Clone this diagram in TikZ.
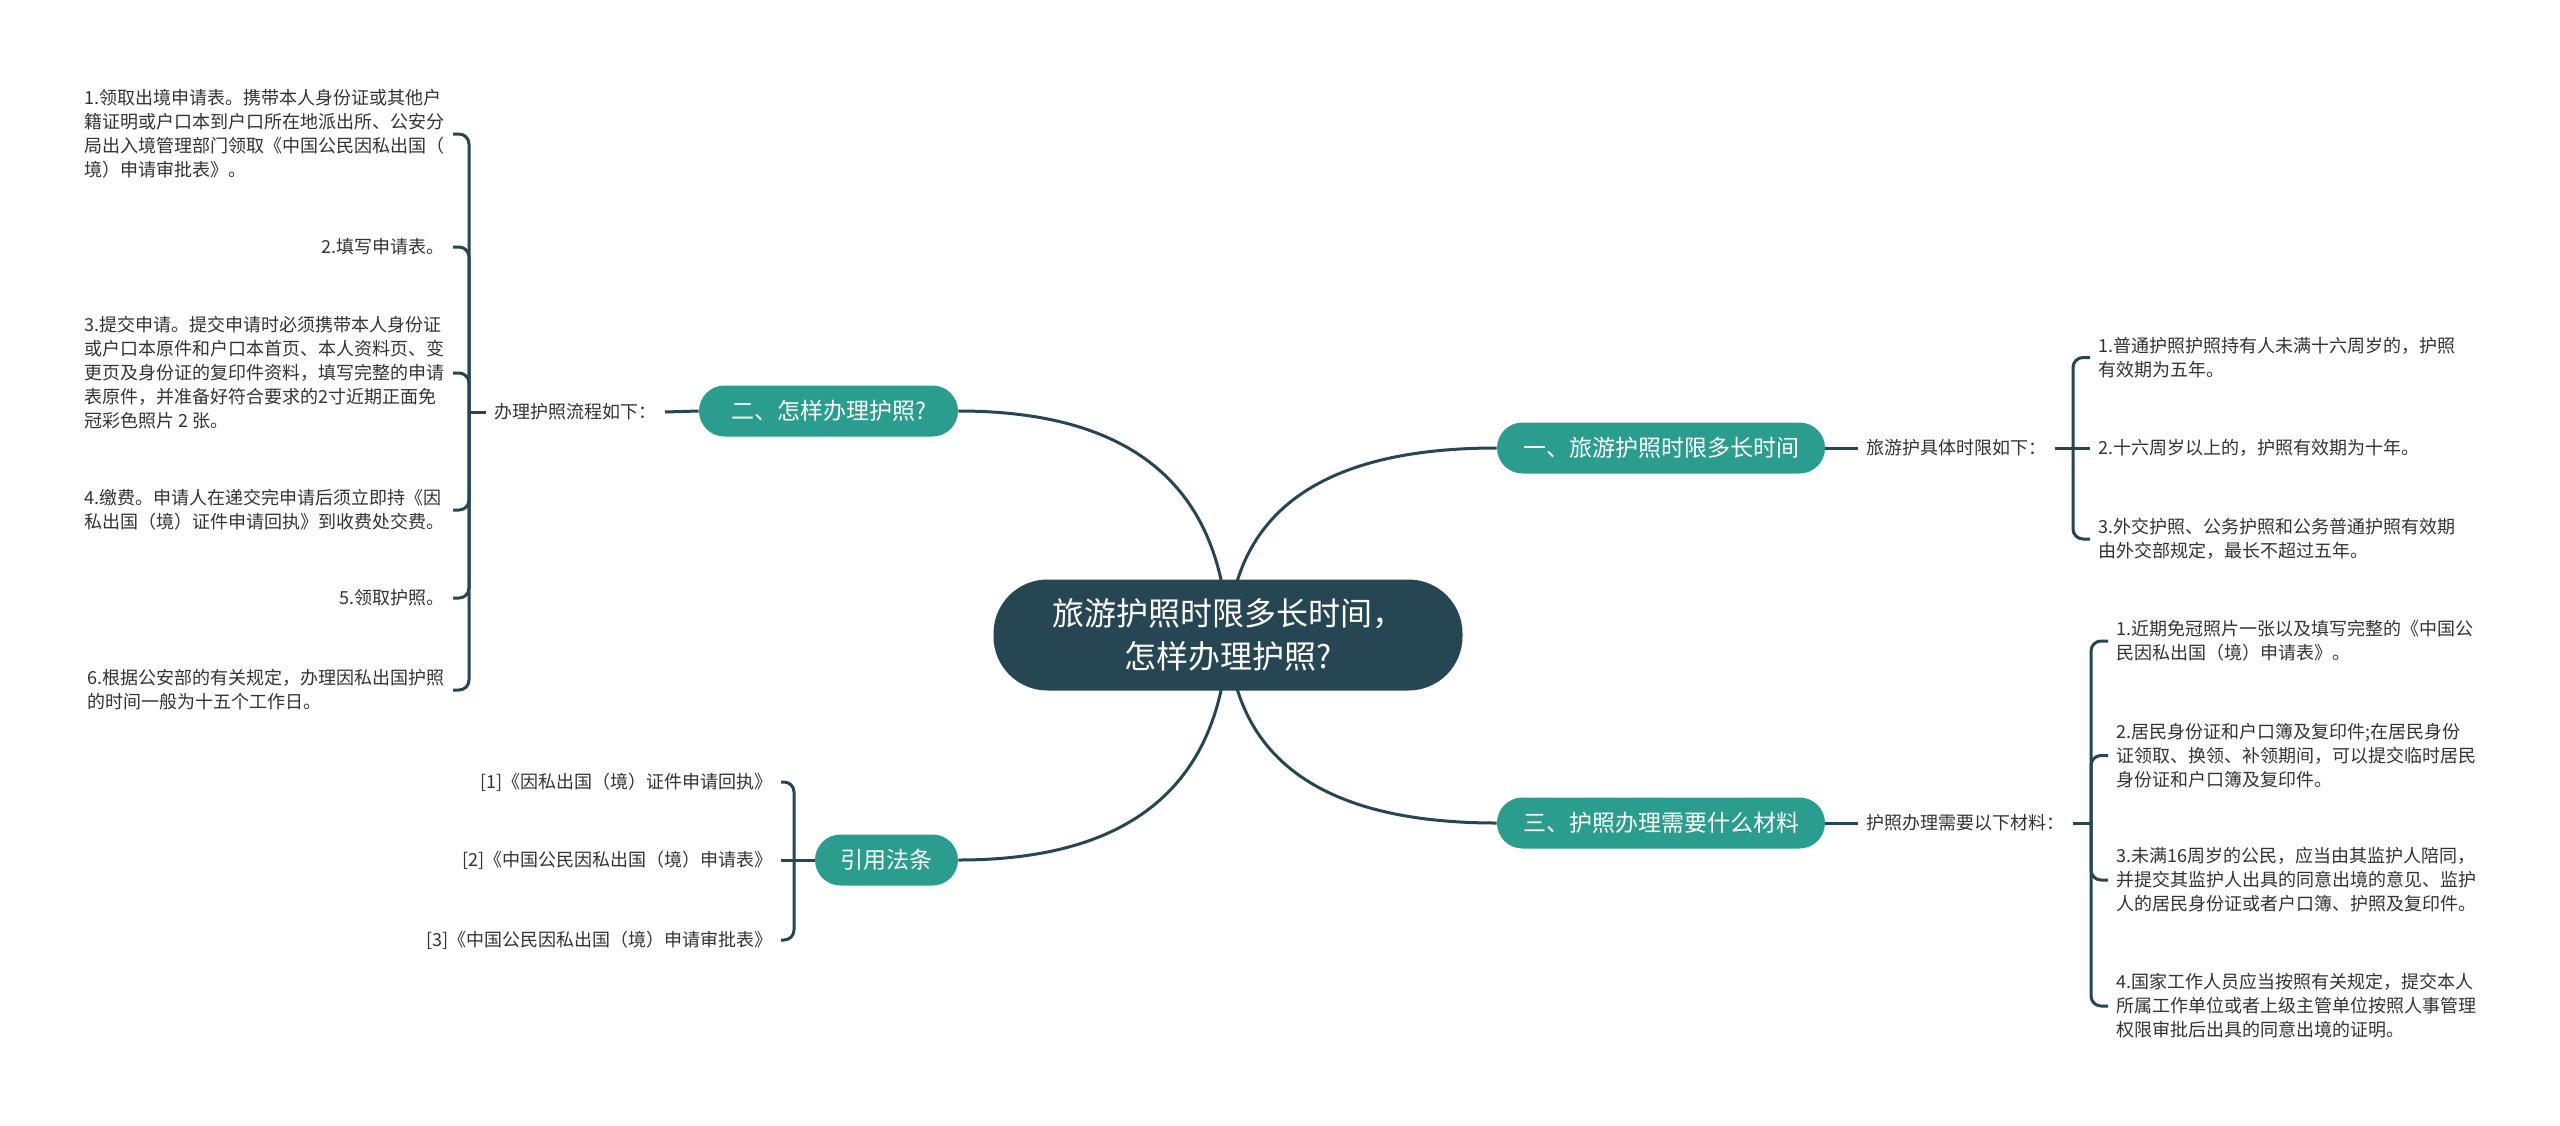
\documentclass[tikz,border=0pt]{standalone}
\usepackage{fontspec}
\setmainfont{Noto Sans CJK SC}
\usetikzlibrary{backgrounds,calc}
\definecolor{mmdark}{HTML}{264653}
\definecolor{mmteal}{HTML}{2A9D8F}
\definecolor{mmtxt}{HTML}{333333}
\begin{document}
\begin{tikzpicture}[x=0.5pt,y=-0.5pt,
  conn/.style={draw=mmdark, line width=1.5pt},
  bracket/.style={draw=mmdark, line width=1.5pt, rounded corners=5pt},
  root/.style={fill=mmdark, text=white, rounded corners=27pt, minimum width=234.5pt, minimum height=55.5pt, font=\fontsize{16}{21.5}\selectfont, align=center, inner sep=0pt},
  branch/.style={fill=mmteal, text=white, rounded corners=12.75pt, minimum height=25.5pt, font=\fontsize{11.5}{14}\selectfont, inner sep=0pt},
  sub/.style={text=mmtxt, font=\fontsize{9}{12}\selectfont, inner xsep=4pt, inner ysep=2pt},
  leaf/.style={text=mmtxt, font=\fontsize{9}{12}\selectfont, inner xsep=4pt, inner ysep=2pt, align=left},
]
\begin{scope}[on background layer]
\fill[white] (0,0) rectangle (2560,1125);
\end{scope}
\useasboundingbox (0,0) rectangle (2560,1125);

% root and branches
\node[root] (c) at (1228,635) {旅游护照时限多长时间，\\怎样办理护照?};
\node[branch, minimum width=164pt] (b1) at (1661,448) {一、旅游护照时限多长时间};
\node[branch, minimum width=129.5pt] (b2) at (828.5,411) {二、怎样办理护照?};
\node[branch, minimum width=164pt] (b3) at (1661,823) {三、护照办理需要什么材料};
\node[branch, minimum width=71.5pt] (b4) at (886.5,860) {引用法条};

% sub labels
\node[sub, anchor=west] (s1) at (1858,448) {旅游护具体时限如下：};
\node[sub, anchor=east] (s2) at (665,412) {办理护照流程如下：};
\node[sub, anchor=west] (s3) at (1858,823) {护照办理需要以下材料：};

% bracket joints
\coordinate (j1) at (2073,448);
\coordinate (j2) at (469,412);
\coordinate (j3) at (2091,823);
\coordinate (j4) at (794,860);

% leaves of branch 2
\node[leaf, anchor=east] (l1) at (453,134) {1.领取出境申请表。携带本人身份证或其他户\\籍证明或户口本到户口所在地派出所、公安分\\局出入境管理部门领取《中国公民因私出国（\\境）申请审批表》。};
\node[leaf, anchor=east] (l2) at (453,247) {2.填写申请表。};
\node[leaf, anchor=east] (l3) at (453,373) {3.提交申请。提交申请时必须携带本人身份证\\或户口本原件和户口本首页、本人资料页、变\\更页及身份证的复印件资料，填写完整的申请\\表原件，并准备好符合要求的2寸近期正面免\\冠彩色照片 2 张。};
\node[leaf, anchor=east] (l4) at (453,510) {4.缴费。申请人在递交完申请后须立即持《因\\私出国（境）证件申请回执》到收费处交费。};
\node[leaf, anchor=east] (l5) at (453,598) {5.领取护照。};
\node[leaf, anchor=east] (l6) at (453,690) {6.根据公安部的有关规定，办理因私出国护照\\的时间一般为十五个工作日。};

% leaves of branch 1
\node[leaf, anchor=west] (r1) at (2090,357.5) {1.普通护照护照持有人未满十六周岁的，护照\\有效期为五年。};
\node[leaf, anchor=west] (r2) at (2090,448) {2.十六周岁以上的，护照有效期为十年。};
\node[leaf, anchor=west] (r3) at (2090,539) {3.外交护照、公务护照和公务普通护照有效期\\由外交部规定，最长不超过五年。};

% leaves of branch 3
\node[leaf, anchor=west] (m1) at (2108,641) {1.近期免冠照片一张以及填写完整的《中国公\\民因私出国（境）申请表》。};
\node[leaf, anchor=west] (m2) at (2108,755.5) {2.居民身份证和户口簿及复印件;在居民身份\\证领取、换领、补领期间，可以提交临时居民\\身份证和户口簿及复印件。};
\node[leaf, anchor=west] (m3) at (2108,880) {3.未满16周岁的公民，应当由其监护人陪同，\\并提交其监护人出具的同意出境的意见、监护\\人的居民身份证或者户口簿、护照及复印件。};
\node[leaf, anchor=west] (m4) at (2108,1006) {4.国家工作人员应当按照有关规定，提交本人\\所属工作单位或者上级主管单位按照人事管理\\权限审批后出具的同意出境的证明。};

% leaves of references
\node[leaf, anchor=east] (q1) at (781,782) {[1]《因私出国（境）证件申请回执》};
\node[leaf, anchor=east] (q2) at (781,860) {[2]《中国公民因私出国（境）申请表》};
\node[leaf, anchor=east] (q3) at (781,940) {[3]《中国公民因私出国（境）申请审批表》};

% connectors from root (behind the root)
\begin{scope}[on background layer]
\draw[conn] (c.center) .. controls +(6.7,-124.7) and +(-172.7,0) .. (b1.west);
\draw[conn] (c.center) .. controls +(-6.7,-149.3) and +(173.3,0) .. (b2.east);
\draw[conn] (c.center) .. controls +(6.7,125.3) and +(-172.7,0) .. (b3.west);
\draw[conn] (c.center) .. controls +(-6.7,150) and +(173,0) .. (b4.east);
\end{scope}

% branch to sub label
\draw[conn] (b1.east) -- (s1.west);
\draw[conn] (b2.west) -- (s2.east);
\draw[conn] (b3.east) -- (s3.west);

% sub label to joints
\draw[conn] (s1.east) -- (j1);
\draw[conn] (s2.west) -- (j2);
\draw[conn] (s3.east) -- (j3);
\draw[conn] (b4.west) -- (j4);

% brackets
\draw[bracket] (j2) |- (l1.east);
\draw[bracket] (j2) |- (l2.east);
\draw[bracket] (j2) |- (l3.east);
\draw[bracket] (j2) |- (l4.east);
\draw[bracket] (j2) |- (l5.east);
\draw[bracket] (j2) |- (l6.east);

\draw[bracket] (j1) |- (r1.west);
\draw[conn] (j1) -- (r2.west);
\draw[bracket] (j1) |- (r3.west);

\draw[bracket] (j3) |- (m1.west);
\draw[bracket] (j3) |- (m2.west);
\draw[bracket] (j3) |- (m3.west);
\draw[bracket] (j3) |- (m4.west);

\draw[bracket] (j4) |- (q1.east);
\draw[conn] (j4) -- (q2.east);
\draw[bracket] (j4) |- (q3.east);
\end{tikzpicture}
\end{document}
